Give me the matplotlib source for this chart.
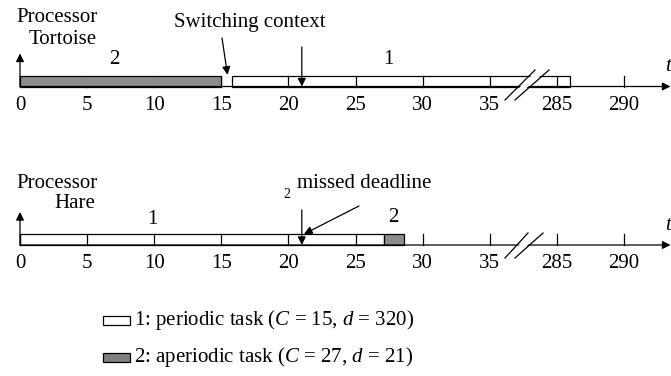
import matplotlib
matplotlib.use("Agg")
import matplotlib.pyplot as plt
from matplotlib.patches import Rectangle, Polygon

plt.rcParams["mathtext.fontset"] = "custom"
plt.rcParams["mathtext.it"] = "Liberation Serif:italic"
plt.rcParams["mathtext.rm"] = "Liberation Serif"

# ---------------- data ----------------
tick_values = [0, 5, 10, 15, 20, 25, 30, 35, 285, 290]
tick_labels = ["0", "5", "10", "15", "20", "25", "30", "35", "285", "290"]

tortoise_tasks = ["2", "1"]
tortoise_start = [0, 15.8]
tortoise_end = [15, 286]

hare_tasks = ["1", "2"]
hare_start = [0, 27.1]
hare_end = [27.1, 28.6]

deadline = 21
legend_labels = ["1: periodic task (", "2: aperiodic task ("]
legend_C = [15, 27]
legend_d = [320, 21]

# ---------------- styling ----------------
task_colors = {"1": "white", "2": "#8c8c8c"}
FONT = "Liberation Serif"
FS = 15
PX = 13.42            # pixels per time unit
BREAK_FROM, BREAK_TO = 35, 285
GAP = 5               # displayed units between 35 and 285


def tx(t):
    """time -> displayed x (broken axis)"""
    return t if t <= BREAK_FROM + 2 else t - BREAK_TO + BREAK_FROM + GAP


def px(x):
    """pixel x -> displayed x"""
    return (x - 20) / PX


fig = plt.figure(figsize=(6.71, 3.76), dpi=100)
ax = fig.add_axes([0, 0, 1, 1])
ax.set_xlim(px(0), px(671))
ax.set_ylim(376, 0)
ax.axis("off")

BAR_H = 10.7
LW = 0.9
AP = dict(arrowstyle="-|>", lw=LW, color="k", mutation_scale=12,
          shrinkA=0, shrinkB=0)


def arrow(xy, xytext):
    ax.annotate("", xy=xy, xytext=xytext, arrowprops=AP, zorder=6,
                annotation_clip=False)


def draw_row(y_axis, names, starts, ends, tick_y_label, slash):
    # axis with arrow
    arrow((px(670.5), y_axis), (tx(0), y_axis))
    # ticks
    for v in tick_values:
        ax.plot([tx(v), tx(v)], [y_axis, y_axis - BAR_H], color="k", lw=LW, zorder=2)
    # bars
    for n, s, e in zip(names, starts, ends):
        z = 1 if n == "1" else 3
        ax.add_patch(Rectangle((tx(s), y_axis - BAR_H), tx(e) - tx(s), BAR_H,
                               facecolor=task_colors[n], edgecolor="k", lw=LW, zorder=z))
    # tick labels
    for v, lab in zip(tick_values, tick_labels):
        ax.text(tx(v), tick_y_label, lab, ha="center", va="center",
                fontsize=FS, family=FONT)
    # break marks
    (x1a, y1a, x1b, y1b), (x2a, y2a, x2b, y2b) = slash
    ax.add_patch(Polygon([(px(x1a) + 0.15, y1a), (px(x1b) + 0.15, y1b),
                          (px(x2b) - 0.15, y2b), (px(x2a) - 0.15, y2a)],
                         closed=True, facecolor="white", edgecolor="none", zorder=7))
    for (xa, ya, xb, yb) in slash:
        ax.plot([px(xa), px(xb)], [ya, yb], color="k", lw=LW, zorder=8)
    # up arrow at origin
    arrow((tx(0), y_axis - 33), (tx(0), y_axis))
    # t label
    ax.text(px(668), y_axis - 20, "t", ha="center", va="center",
            fontsize=FS, family=FONT, style="italic")


# ---------- Tortoise ----------
yT = 86.5
draw_row(yT, tortoise_tasks, tortoise_start, tortoise_end, 106,
         [(505, 100, 535, 70), (515, 100, 549, 70)])
ax.text(px(57), 18, "Processor", ha="center", va="center", fontsize=FS, family=FONT)
ax.text(px(63), 40, "Tortoise", ha="center", va="center", fontsize=FS, family=FONT)
ax.text((tx(tortoise_start[0]) + tx(tortoise_end[0])) / 2 - 0.5, 59, tortoise_tasks[0],
        ha="center", va="center", fontsize=FS, family=FONT)
ax.text(px(388), 59, tortoise_tasks[1], ha="center", va="center",
        fontsize=FS, family=FONT)
ax.text(px(250), 23, "Switching context", ha="center", va="center",
        fontsize=FS, family=FONT)
arrow((px(227.5), yT - BAR_H - 1), (px(222), 38))
arrow((tx(deadline), yT), (tx(deadline), 47))

# ---------- Hare ----------
yH = 245
draw_row(yH, hare_tasks, hare_start, hare_end, 264,
         [(505, 258, 528, 233), (515, 258, 543, 233)])
ax.text(px(57), 183, "Processor", ha="center", va="center", fontsize=FS, family=FONT)
ax.text(px(75), 204, "Hare", ha="center", va="center", fontsize=FS, family=FONT)
ax.text(px(152), 219, hare_tasks[0], ha="center", va="center", fontsize=FS, family=FONT)
ax.text((tx(hare_start[1]) + tx(hare_end[1])) / 2, 217, hare_tasks[1],
        ha="center", va="center", fontsize=FS, family=FONT)
ax.text(px(287), 194, "2", ha="center", va="center", fontsize=10, family=FONT)
ax.text(px(297), 184, "missed deadline", ha="left", va="center", fontsize=FS, family=FONT)
arrow((tx(deadline), yH), (tx(deadline), 210))
arrow((px(304), 234), (px(359), 206))

# ---------- legend ----------
leg_y = [320, 357]
for i, name in enumerate(["1", "2"]):
    y = leg_y[i]
    ax.add_patch(Rectangle((px(103), y - 4.5), px(130) - px(103), 9,
                           facecolor=task_colors[name] if name == "1" else "#808080",
                           edgecolor="k", lw=LW))
    txt = (legend_labels[i] + r"$\mathit{C}$ = " + f"{legend_C[i]}, "
           + r"$\mathit{d}$ = " + f"{legend_d[i]})")
    ax.text(px(134), y, txt, ha="left", va="center", fontsize=FS, family=FONT)

fig.savefig("out.png", dpi=100)
